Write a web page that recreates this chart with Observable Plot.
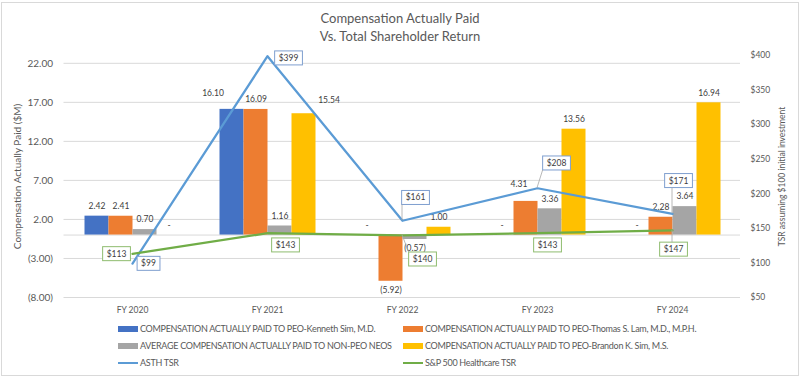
<!DOCTYPE html>
<html><head><meta charset="utf-8">
<script src="https://cdn.jsdelivr.net/npm/d3@7"></script>
<script src="https://cdn.jsdelivr.net/npm/@observablehq/plot@0.6"></script>
<style>
body{margin:0;background:#fff;}
#chart{position:relative;width:800px;height:379px;font-family:Lato,"Open Sans",sans-serif;color:#595959;overflow:hidden}
#chart svg{position:absolute;left:0;top:0;overflow:visible}
#frame{position:absolute;left:1px;top:2px;width:798px;height:374px;border:1px solid #d9d9d9;box-sizing:border-box}
#title{position:absolute;top:9px;left:0;width:800px;text-align:center;font-size:13px;line-height:18px;color:#595959}
.lg{position:absolute;font-size:9px;letter-spacing:-0.3px;line-height:12px;white-space:nowrap;color:#595959;display:flex;align-items:center}
.sw{display:inline-block;width:20px;margin-right:2px}
</style></head>
<body>
<div id="chart">
  <div id="frame"></div>
  <div id="title">Compensation Actually Paid<br>Vs. Total Shareholder Return</div>
</div>
<script>
// ---- data ----
const years = ["FY 2020", "FY 2021", "FY 2022", "FY 2023", "FY 2024"];
const seriesNames = [
  "COMPENSATION ACTUALLY PAID TO PEO-Kenneth Sim, M.D.",
  "COMPENSATION ACTUALLY PAID TO PEO-Thomas S. Lam, M.D., M.P.H.",
  "AVERAGE COMPENSATION ACTUALLY PAID TO NON-PEO NEOS",
  "COMPENSATION ACTUALLY PAID TO PEO-Brandon K. Sim, M.S."
];
const kennethSim = [2.42, 16.10, 0, 0, 0];
const thomasLam = [2.41, 16.09, -5.92, 4.31, 2.28];
const nonPeoNeos = [0.70, 1.16, -0.57, 3.36, 3.64];
const brandonSim = [0, 15.54, 1.00, 13.56, 16.94];
const lineNames = ["ASTH TSR", "S&P 500 Healthcare TSR"];
const asthTsr = [99, 399, 161, 208, 171];
const spTsr = [113, 143, 140, 143, 147];
const leftTicks = [-8, -3, 2, 7, 12, 17, 22];
const rightTicks = [50, 100, 150, 200, 250, 300, 350, 400];

// ---- styling ----
const barColors = ["#4472C4", "#ED7D31", "#A5A5A5", "#FFC000"];
const lineColors = ["#5B9BD5", "#70AD47"];
const W = 800, H = 379, mL = 63.5, mR = 60, mT = 55, mB = 82;
const font = "Lato, 'Open Sans', sans-serif";
const txt = "#595959", lbl = "#404040";
// label placement (pixel nudges), per year index
const asthNudge = [[16, 0], [21, 2], [13, -23], [19, -25], [6, -33]];
const spNudge = [[-16, 0], [18, 12], [20, 24], [10, 12], [1, 19]];
const asthLeader = [false, false, true, true, true];
const spLeader = [false, false, true, false, true];
// bar label nudges: key "yearIndex|seriesIndex"
const barNudge = {"1|0": [-19, -16], "1|3": [25, -13], "3|1": [-7, -17]};

const allSeries = [kennethSim, thomasLam, nonPeoNeos, brandonSim];
const barRows = [];
years.forEach((y, i) => allSeries.forEach((s, k) => barRows.push({year: y, series: seriesNames[k], value: s[i], key: i + "|" + k})));
const tsrRows = years.map((y, i) => ({year: y, asth: asthTsr[i], sp: spTsr[i], i}));

const fmtM = v => v < 0 ? `(${Math.abs(v).toFixed(2)})` : v.toFixed(2);
const common = {width: W, height: H, marginLeft: mL, marginRight: mR, marginTop: mT, marginBottom: mB,
  style: {fontFamily: font, background: "transparent", color: txt}};

// layer 1: grid + left axis
const base = Plot.plot({...common,
  y: {domain: [-8, 23]},
  x: {axis: null},
  marks: [
    Plot.gridY(leftTicks, {stroke: "#d9d9d9", strokeOpacity: 1}),
    Plot.ruleY([0], {stroke: "#d9d9d9"}),
    Plot.axisY(leftTicks, {tickSize: 0, tickPadding: 11, tickFormat: fmtM, fontSize: 10, fill: txt,
      label: "Compensation Actually Paid ($M)", labelAnchor: "center", labelOffset: 50, labelArrow: "none"})
  ]
});

// layer 2: bars
const barLabel = (rows, dx, dy, textFn) => Plot.text(rows, {fx: "year", x: "series", y: "value", text: textFn, dx, dy, fontSize: 8.5, fill: lbl});
const plain = barRows.filter(d => !barNudge[d.key]);
const bars = Plot.plot({...common,
  fx: {domain: years, paddingInner: 0.275, paddingOuter: 0.1375, axis: null, label: null},
  x: {domain: seriesNames, padding: 0, axis: null},
  y: {domain: [-8, 23], axis: null},
  color: {domain: seriesNames, range: barColors},
  marks: [
    Plot.barY(barRows, {fx: "year", x: "series", y: "value", fill: "series"}),
    barLabel(plain.filter(d => d.value > 0), 0, -10, d => fmtM(d.value)),
    barLabel(plain.filter(d => d.value < 0), 0, 9, d => fmtM(d.value)),
    barLabel(plain.filter(d => d.value === 0), 0, -10, () => "-"),
    ...barRows.filter(d => barNudge[d.key]).map(d => barLabel([d], barNudge[d.key][0], barNudge[d.key][1], r => fmtM(r.value)))
  ]
});

// layer 3: TSR lines + right axis + x axis
const lines = Plot.plot({...common,
  x: {type: "point", domain: years, padding: 0.5},
  y: {domain: [50, 400]},
  marks: [
    Plot.axisX({tickSize: 0, tickPadding: 9, fontSize: 8.5, fill: txt, label: null}),
    Plot.axisY(rightTicks, {anchor: "right", tickSize: 0, tickPadding: 10, tickFormat: d => "$" + d, fontSize: 8.5, fill: txt,
      label: "TSR assuming $100 initial investment", labelAnchor: "center", labelOffset: 44, labelArrow: "none"}),
    Plot.lineY(tsrRows, {x: "year", y: "asth", stroke: lineColors[0], strokeWidth: 2.25}),
    Plot.lineY(tsrRows, {x: "year", y: "sp", stroke: lineColors[1], strokeWidth: 2.25}),
    ...tsrRows.map((d, i) => Plot.text([d], {x: "year", y: "asth", text: r => "$" + r.asth, dx: asthNudge[i][0], dy: asthNudge[i][1], fontSize: 8.5, fill: "#404041"})),
    ...tsrRows.map((d, i) => Plot.text([d], {x: "year", y: "sp", text: r => "$" + r.sp, dx: spNudge[i][0], dy: spNudge[i][1], fontSize: 8.5, fill: "#404042"}))
  ]
});

const chart = document.getElementById("chart");
chart.appendChild(base);
chart.appendChild(bars);
chart.appendChild(lines);

const NS = "http://www.w3.org/2000/svg";
const sx = lines.scale("x"), sy = lines.scale("y");
const leaderG = document.createElementNS(NS, "g");
leaderG.setAttribute("stroke", "#a6a6a6");
leaderG.setAttribute("stroke-width", 0.8);
lines.appendChild(leaderG);

// boxes around TSR labels, with leader lines
function boxLabels(fill, color, values, leaders) {
  lines.querySelectorAll(`g[fill="${fill}"] text`).forEach((t, i) => {
    const b = t.getBBox();
    const r = document.createElementNS(NS, "rect");
    r.setAttribute("x", b.x - 4); r.setAttribute("y", b.y - 2);
    r.setAttribute("width", b.width + 8); r.setAttribute("height", b.height + 4);
    r.setAttribute("fill", "white"); r.setAttribute("stroke", color); r.setAttribute("stroke-width", 1);
    if (t.getAttribute("transform")) r.setAttribute("transform", t.getAttribute("transform"));
    t.parentNode.insertBefore(r, t);
    if (leaders[i]) {
      const px = sx.apply(years[i]), py = sy.apply(values[i]);
      const rb = r.getBoundingClientRect(), ob = lines.getBoundingClientRect();
      const x0 = rb.left - ob.left, x1 = rb.right - ob.left, y0 = rb.top - ob.top, y1 = rb.bottom - ob.top;
      const qx = Math.max(x0, Math.min(px, x1)), qy = Math.max(y0, Math.min(py, y1));
      const l = document.createElementNS(NS, "line");
      l.setAttribute("x1", px); l.setAttribute("y1", py);
      l.setAttribute("x2", qx); l.setAttribute("y2", qy);
      leaderG.appendChild(l);
    }
  });
}
boxLabels("#404041", "#7f9fcf", asthTsr, asthLeader);
boxLabels("#404042", "#8fbc6f", spTsr, spLeader);

// legend
const legendItems = [
  {name: seriesNames[0], color: barColors[0], kind: "bar", col: 0, row: 0},
  {name: seriesNames[1], color: barColors[1], kind: "bar", col: 1, row: 0},
  {name: seriesNames[2], color: barColors[2], kind: "bar", col: 0, row: 1},
  {name: seriesNames[3], color: barColors[3], kind: "bar", col: 1, row: 1},
  {name: lineNames[0], color: lineColors[0], kind: "line", col: 0, row: 2},
  {name: lineNames[1], color: lineColors[1], kind: "line", col: 1, row: 2}
];
const colX = [118, 403], rowY = [323, 340, 357];
legendItems.forEach(it => {
  const d = document.createElement("div");
  d.className = "lg";
  d.style.left = colX[it.col] + "px";
  d.style.top = rowY[it.row] + "px";
  const s = document.createElement("span");
  s.className = "sw";
  s.style.height = it.kind === "bar" ? "6px" : "2.5px";
  s.style.background = it.color;
  d.appendChild(s);
  d.appendChild(document.createTextNode(it.name));
  chart.appendChild(d);
});
</script>
</body></html>
